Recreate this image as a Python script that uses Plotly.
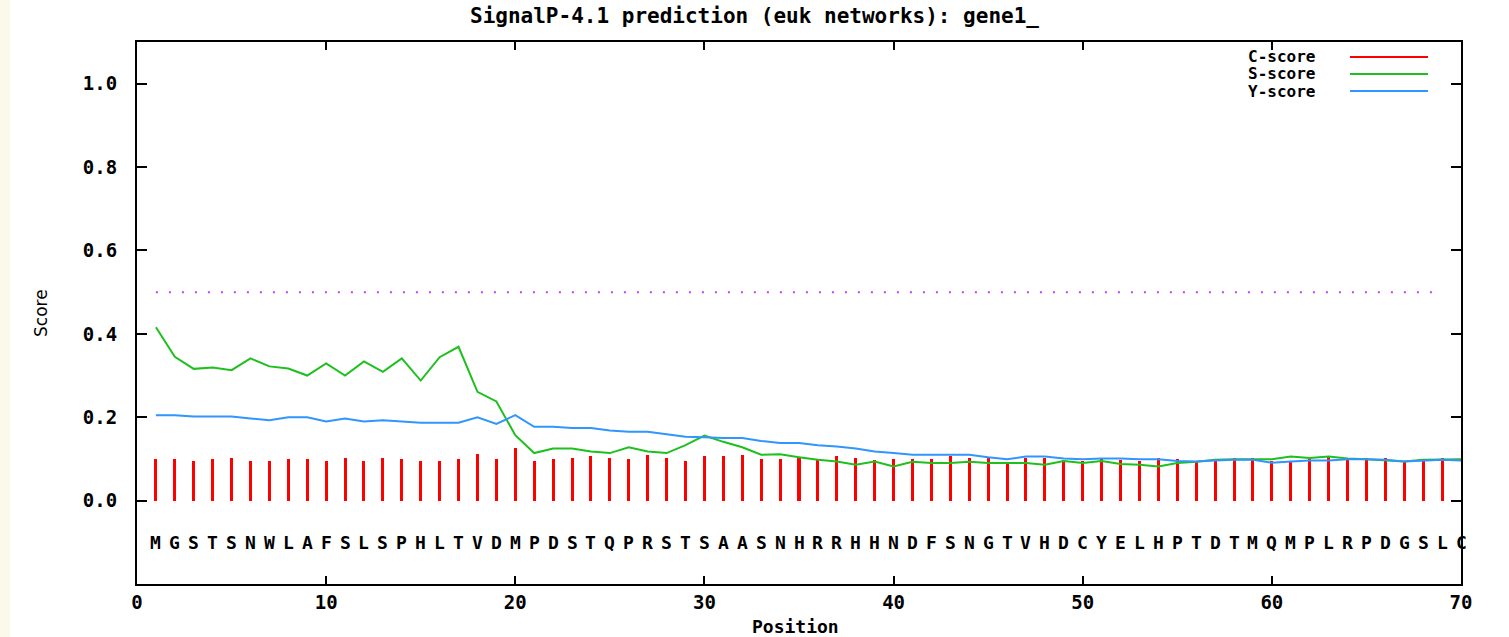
import plotly.graph_objects as go

TITLE = "SignalP-4.1 prediction (euk networks): gene1_"
SEQUENCE = "MGSTSNWLAFSLSPHLTVDMPDSTQPRSTSAASNHRRHHNDFSNGTVHDCYELHPTDTMQMPLRPDGSLC"
THRESHOLD = 0.5

positions = list(range(1, 71))
c_positions = list(range(1, 70))

c_score = [0.100, 0.100, 0.096, 0.100, 0.103, 0.096, 0.096, 0.100, 0.100, 0.096,
           0.103, 0.096, 0.103, 0.100, 0.096, 0.096, 0.100, 0.113, 0.100, 0.126,
           0.096, 0.099, 0.102, 0.106, 0.102, 0.099, 0.109, 0.102, 0.096, 0.106,
           0.106, 0.109, 0.099, 0.099, 0.104, 0.098, 0.107, 0.102, 0.098, 0.099,
           0.099, 0.099, 0.107, 0.102, 0.104, 0.093, 0.102, 0.102, 0.098, 0.096,
           0.099, 0.098, 0.096, 0.102, 0.099, 0.093, 0.099, 0.102, 0.102, 0.096,
           0.094, 0.101, 0.104, 0.099, 0.102, 0.102, 0.094, 0.094, 0.102]

s_score = [0.416, 0.345, 0.316, 0.319, 0.313, 0.341, 0.322, 0.317, 0.300, 0.329,
           0.300, 0.334, 0.309, 0.341, 0.288, 0.344, 0.369, 0.261, 0.238, 0.157,
           0.114, 0.125, 0.125, 0.118, 0.114, 0.128, 0.118, 0.114, 0.133, 0.156,
           0.141, 0.128, 0.110, 0.111, 0.104, 0.098, 0.094, 0.086, 0.094, 0.082,
           0.093, 0.090, 0.090, 0.093, 0.090, 0.090, 0.090, 0.086, 0.095, 0.090,
           0.095, 0.088, 0.086, 0.082, 0.090, 0.093, 0.098, 0.099, 0.099, 0.099,
           0.106, 0.102, 0.106, 0.101, 0.099, 0.096, 0.094, 0.098, 0.099, 0.099]

y_score = [0.205, 0.205, 0.202, 0.202, 0.202, 0.197, 0.193, 0.200, 0.200, 0.190,
           0.197, 0.190, 0.193, 0.190, 0.187, 0.187, 0.187, 0.200, 0.184, 0.205,
           0.177, 0.177, 0.174, 0.174, 0.168, 0.165, 0.165, 0.159, 0.153, 0.152,
           0.150, 0.150, 0.143, 0.138, 0.138, 0.133, 0.130, 0.125, 0.118, 0.114,
           0.110, 0.110, 0.110, 0.110, 0.104, 0.099, 0.106, 0.106, 0.101, 0.099,
           0.101, 0.101, 0.099, 0.099, 0.095, 0.094, 0.096, 0.098, 0.098, 0.091,
           0.094, 0.096, 0.096, 0.099, 0.099, 0.098, 0.094, 0.096, 0.098, 0.096]

series_names = ["C-score", "S-score", "Y-score"]
series_colors = ["#ff0000", "#1ec01e", "#3095ff"]
x_ticks = [0, 10, 20, 30, 40, 50, 60, 70]
y_ticks = [0.0, 0.2, 0.4, 0.6, 0.8, 1.0]

W, H = 1509, 637
L, R, T, B = 137, 48, 42, 53
PW, PH = W - L - R, H - T - B

def px_x(px):
    return (px - L) / PW

def px_y(py):
    return (H - B - py) / PH

MONO = "DejaVu Sans Mono"

fig = go.Figure()
fig.add_trace(go.Scatter(x=[c_positions[0], c_positions[-1]], y=[THRESHOLD, THRESHOLD],
                         mode="lines", line=dict(color="#c040ff", width=2, dash="2px,11px"),
                         showlegend=False, hoverinfo="skip"))
fig.add_trace(go.Bar(x=c_positions, y=c_score, width=0.16, marker=dict(color=series_colors[0], line=dict(width=0)),
                     name=series_names[0], showlegend=False))
fig.add_trace(go.Scatter(x=positions, y=s_score, mode="lines", line=dict(color=series_colors[1], width=2),
                         name=series_names[1], showlegend=False))
fig.add_trace(go.Scatter(x=positions, y=y_score, mode="lines", line=dict(color=series_colors[2], width=2),
                         name=series_names[2], showlegend=False))

annotations = []
# sequence letters
for i, ch in enumerate(SEQUENCE):
    annotations.append(dict(x=positions[i], y=-0.1, xref="x", yref="y", text=ch, showarrow=False,
                            font=dict(family=MONO, size=18, color="black", weight="bold"),
                            xanchor="center", yanchor="middle"))
# legend
legend_y = [57, 74, 91]
for name, col, py in zip(series_names, series_colors, legend_y):
    annotations.append(dict(x=px_x(1317), y=px_y(py), xref="paper", yref="paper", text=name,
                            showarrow=False, xanchor="right", yanchor="middle",
                            font=dict(family=MONO, size=16, color="black", weight="bold")))
# axis titles
annotations.append(dict(x=px_x(795), y=px_y(626), xref="paper", yref="paper", text="Position",
                        showarrow=False, xanchor="center", yanchor="middle",
                        font=dict(family=MONO, size=18, color="black", weight="bold")))
annotations.append(dict(x=px_x(41), y=px_y(313), xref="paper", yref="paper", text="Score",
                        showarrow=False, xanchor="center", yanchor="middle", textangle=-90,
                        font=dict(family="DejaVu Sans", size=17, color="black")))

shapes = [dict(type="rect", xref="paper", yref="paper", x0=px_x(0), x1=px_x(10), y0=px_y(H), y1=px_y(0),
               fillcolor="#fbf9ea", line=dict(width=0), layer="below")]
for col, py in zip(series_colors, legend_y):
    shapes.append(dict(type="line", xref="paper", yref="paper", x0=px_x(1350), x1=px_x(1428),
                       y0=px_y(py), y1=px_y(py), line=dict(color=col, width=2)))

fig.update_layout(
    width=W, height=H,
    margin=dict(l=L, r=R, t=T, b=B),
    paper_bgcolor="white", plot_bgcolor="white",
    title=dict(text=TITLE, x=0.5, xref="container", y=1 - 16 / H, yref="container",
               xanchor="center", yanchor="middle",
               font=dict(family=MONO, size=21, color="black", weight="bold")),
    showlegend=False,
    annotations=annotations,
    shapes=shapes,
    bargap=0,
    xaxis=dict(range=[0, 70], tickvals=x_ticks, ticktext=[str(v) for v in x_ticks],
               ticks="inside", ticklen=8, tickwidth=2, tickcolor="black",
               showline=True, linecolor="black", linewidth=2, mirror="ticks",
               showgrid=False, zeroline=False,
               tickfont=dict(family=MONO, size=19, color="black", weight="bold")),
    yaxis=dict(range=[-0.2, 1.1], tickvals=y_ticks, ticktext=["%.1f" % v for v in y_ticks],
               ticks="inside", ticklen=10, tickwidth=2, tickcolor="black",
               showline=True, linecolor="black", linewidth=2, mirror="ticks",
               showgrid=False, zeroline=False, ticklabelstandoff=14,
               tickfont=dict(family=MONO, size=19, color="black", weight="bold")),
)

fig.write_html("out.html")
